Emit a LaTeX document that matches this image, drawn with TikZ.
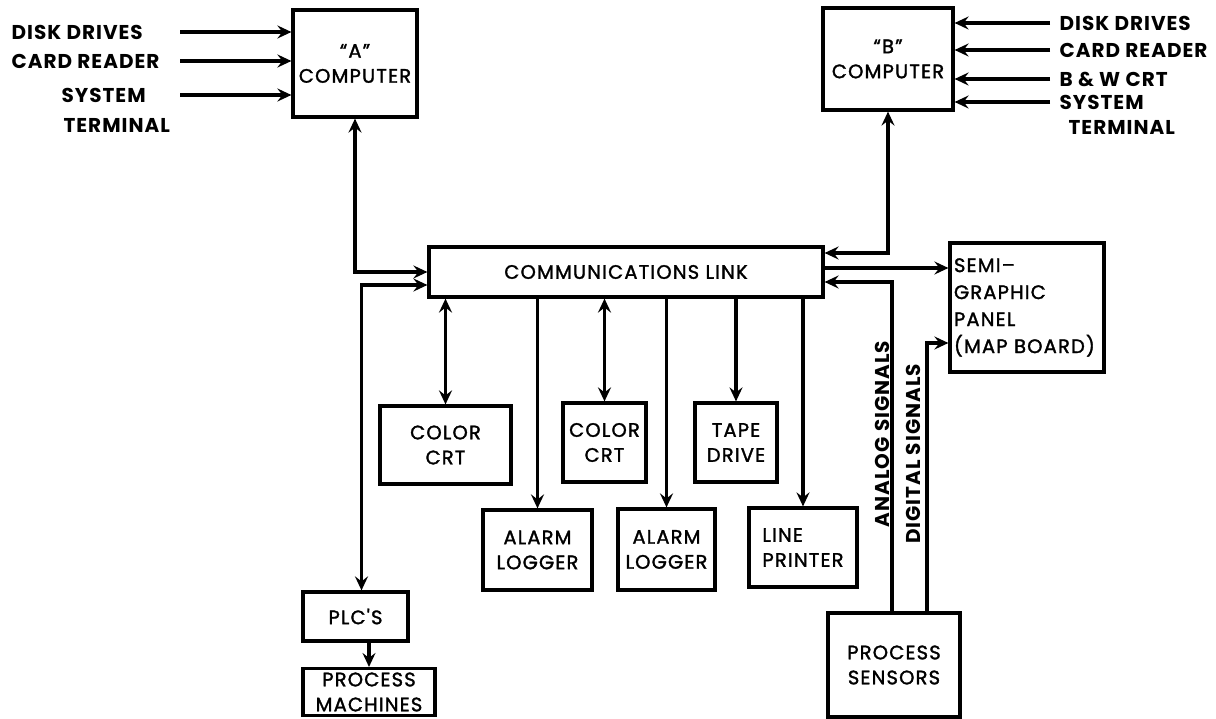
\documentclass[tikz,border=0pt]{standalone}
\usepackage{fontspec}
\setmainfont{Poppins}[LetterSpace=5]
\newfontfamily\boxfont{Poppins}[LetterSpace=6, FakeBold=1.6]
\usepackage{tikz}
\usetikzlibrary{arrows.meta, positioning, calc}

\begin{document}
\begin{tikzpicture}[
    x=1pt, y=-1pt,
    line width=3.2pt,
    >={Stealth[length=14pt, width=13pt, inset=5pt]},
    box/.style={draw, align=center, inner sep=4pt, font=\fontsize{19.5}{25}\boxfont},
    lbl/.style={anchor=west, inner sep=0pt, font=\fontsize{20}{24}\selectfont\bfseries},
    sig/.style={rotate=90, inner sep=0pt, font=\fontsize{20}{24}\selectfont\bfseries}
]
\useasboundingbox (0,0) rectangle (1216,719);

% Computers
\node[box, minimum width=124pt, minimum height=107pt] (acomp) at (355,63.5) {“A”\\COMPUTER};
\node[box, minimum width=130pt, minimum height=102pt] (bcomp) at (888,59) {“B”\\COMPUTER};

% Inputs to A
\coordinate (tailA) at (180,0);
\node[lbl] (ldisk) at (10,32) {DISK DRIVES};
\node[lbl] (lcard) at (10,61) {CARD READER};
\node[lbl] (lsys) at (60,95) {SYSTEM};
\node[lbl] (lterm) at (62,125) {TERMINAL};
\draw[->] (ldisk -| tailA) -- (ldisk -| acomp.west);
\draw[->] (lcard -| tailA) -- (lcard -| acomp.west);
\draw[->] (lsys -| tailA) -- (lsys -| acomp.west);

% Inputs to B
\coordinate (tailB) at (1050,0);
\node[lbl] (rdisk) at (1058,23) {DISK DRIVES};
\node[lbl] (rcard) at (1058,50) {CARD READER};
\node[lbl] (rbw) at (1058,79) {B \& W CRT};
\node[lbl] (rsys) at (1058,102) {SYSTEM};
\node[lbl] (rterm) at (1067,127) {TERMINAL};
\draw[->] (rdisk -| tailB) -- (rdisk -| bcomp.east);
\draw[->] (rcard -| tailB) -- (rcard -| bcomp.east);
\draw[->] (rbw -| tailB) -- (rbw -| bcomp.east);
\draw[->] (rsys -| tailB) -- (rsys -| bcomp.east);

% Communications link and panel
\node[box, minimum width=394pt, minimum height=50pt] (link) at (626,272) {COMMUNICATIONS LINK};
\node[box, align=left, text width=146pt, inner sep=4pt, minimum height=129pt,
      font=\fontsize{19.5}{27}\boxfont] (semi) at (1027,307.5) {SEMI–\\GRAPHIC\\PANEL\\(MAP BOARD)};

% Terminals below the link
\node[box, minimum width=131pt, minimum height=78pt] (crtA) at (445.5,445) {COLOR\\CRT};
\node[box, minimum width=83pt, minimum height=79pt] (crtB) at (604.5,442.5) {COLOR\\CRT};
\node[box, minimum width=82pt, minimum height=79pt] (tape) at (736,442.5) {TAPE\\DRIVE};
\node[box, minimum width=109pt, minimum height=80pt] (logA) at (537.5,550) {ALARM\\LOGGER};
\node[box, minimum width=97pt, minimum height=81pt] (logB) at (666.5,549.5) {ALARM\\LOGGER};
\node[box, align=left, minimum width=108pt, minimum height=79pt] (printer) at (803,547.5) {LINE\\PRINTER};

% Process side
\node[box, minimum width=105pt, minimum height=49pt] (plc) at (355.5,616.5) {PLC'S};
\node[box, minimum width=132pt, minimum height=46pt] (machines) at (369,692) {PROCESS\\MACHINES};
\node[box, minimum width=132pt, minimum height=104pt] (sensors) at (894,665) {PROCESS\\SENSORS};

% Links to computers
\draw[<->] (acomp.south) |- (link.west);
\draw[<->] (bcomp.south) |- ([yshift=19pt]link.east);
\draw[<->] ([yshift=-13pt]link.west) -| ([xshift=6pt]plc.north);
\draw[->] (plc.south -| machines.north) -- (machines.north);

% Drops from the link
\draw[<->] (link.south -| crtA.north) -- (crtA.north);
\draw[->] (link.south -| logA.north) -- (logA.north);
\draw[<->] (link.south -| crtB.north) -- (crtB.north);
\draw[->] (link.south -| logB.north) -- (logB.north);
\draw[->] (link.south -| tape.north) -- (tape.north);
\draw[->] (link.south -| printer.north) -- (printer.north);

% Panel and signals
\draw[->] ([yshift=4pt]link.east) -- ([yshift=4pt]link.east -| semi.west);
\draw[->] ([xshift=-2pt]sensors.north) |- ([yshift=-10pt]link.east);
\draw[->] ([xshift=33pt]sensors.north) |- ([yshift=-35.5pt]semi.west);
\node[sig] (analog) at (882,434) {ANALOG SIGNALS};
\node[sig] (digital) at (913,454) {DIGITAL SIGNALS};
\end{tikzpicture}
\end{document}
